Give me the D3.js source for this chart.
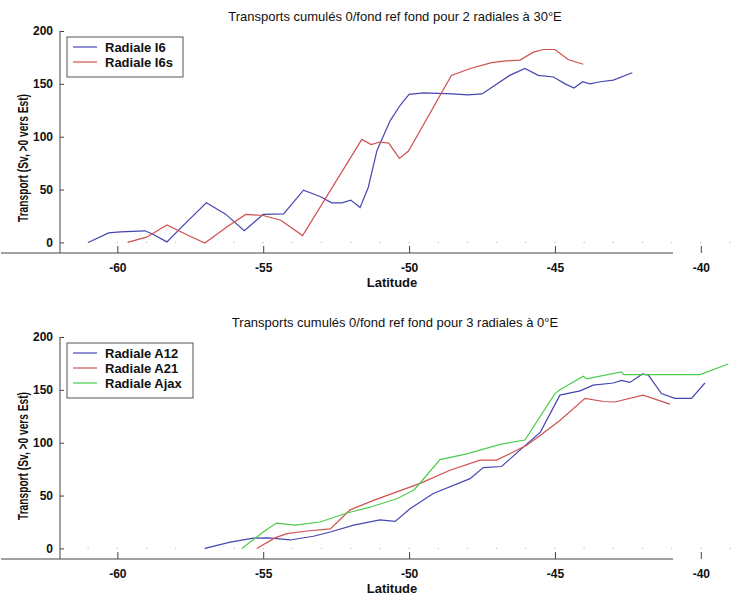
<!DOCTYPE html>
<html>
<head>
<meta charset="utf-8">
<script src="https://cdn.jsdelivr.net/npm/d3@7"></script>
<style>
  body { margin: 0; background: #fff; }
  svg { display: block; font-family: "Liberation Sans", Arial, sans-serif; }
</style>
</head>
<body>
<svg width="732" height="597"></svg>
<script>
// latitudes / transports (Sv)
var i6Lat  = [-61.0, -60.3, -59.9, -59.05, -58.8, -58.3, -57.85, -56.95, -56.3, -55.65, -55.0, -54.3, -53.62, -53.05, -52.65, -52.3, -52.0, -51.68, -51.4, -51.1, -50.65, -50.3, -50.0, -49.5, -48.5, -48.0, -47.5, -46.55, -46.03, -45.57, -45.05, -44.65, -44.35, -44.05, -43.8, -43.45, -43.0, -42.35];
var i6Val  = [0, 9, 10, 11, 8, 0.5, 13, 37.5, 27, 11, 26.5, 27, 49.5, 43.5, 37.5, 37.5, 40, 33, 52, 87, 115, 130, 140, 141.5, 140.5, 139.5, 140.5, 158, 164.5, 158, 156.5, 150, 146, 152, 150, 152, 153.5, 160.5];
var i6sLat = [-59.65, -59.0, -58.3, -57.6, -57.0, -56.25, -55.6, -55.0, -54.4, -53.65, -51.62, -51.3, -51.0, -50.7, -50.33, -50.02, -48.55, -47.9, -47.17, -46.77, -46.2, -45.74, -45.4, -45.0, -44.55, -44.03];
var i6sVal = [0, 5, 16.5, 7, -0.5, 14.5, 26.5, 25.5, 21, 6.5, 97.5, 92.5, 95, 94, 79.5, 86.5, 158, 164.5, 170, 171.5, 172.5, 180, 182.5, 182.5, 173, 168.5];

var a12Lat  = [-57.0, -56.13, -55.33, -54.82, -54.08, -53.28, -52.7, -51.9, -51.0, -50.48, -49.97, -49.17, -47.91, -47.46, -46.83, -46.2, -45.5, -44.83, -44.14, -43.69, -43.0, -42.72, -42.43, -42.0, -41.8, -41.35, -40.89, -40.32, -39.86];
var a12Val  = [0, 6, 9.8, 10, 8, 11.5, 15.5, 22, 27, 25.5, 37.5, 52, 66, 76.5, 77.5, 93, 110, 145, 149, 154.5, 156.5, 159, 157, 165, 164, 146.5, 142, 142, 156.5];
var a21Lat  = [-55.22, -54.6, -54.19, -53.5, -52.7, -52.02, -51.22, -50.42, -49.62, -48.6, -47.57, -47.0, -45.97, -45.5, -44.83, -43.97, -43.34, -42.95, -41.98, -41.06];
var a21Val  = [0, 10, 14, 16.5, 18.5, 36.5, 45.5, 53.5, 61.5, 74, 83.5, 83.5, 97.5, 107, 121, 142, 139, 138.5, 145, 136.5];
var ajaxLat = [-55.73, -55.0, -54.55, -53.9, -53.05, -52.13, -51.34, -50.42, -49.82, -48.94, -48.02, -46.88, -46.03, -45.0, -44.83, -44.03, -43.92, -42.72, -42.64, -40.03, -39.06];
var ajaxVal = [0, 15.5, 24, 22, 25, 33.5, 39, 47, 55.5, 84, 89.5, 98.5, 102.5, 146.5, 150, 163, 160.5, 167, 164.5, 164.5, 174.5];

var xTicks = [-60, -55, -50, -45, -40];
var yTicks = [0, 50, 100, 150, 200];

var panels = [
  { title: "Transports cumulés 0/fond ref fond pour 2 radiales à 30°E", top: 31, bottom: 253, yLabelMid: 158, legendW: 116,
    series: [
      { name: "Radiale I6",  lat: i6Lat,  val: i6Val,  color: "#4646b0" },
      { name: "Radiale I6s", lat: i6sLat, val: i6sVal, color: "#d05050" }
    ] },
  { title: "Transports cumulés 0/fond ref fond pour 3 radiales à 0°E", top: 337, bottom: 559, yLabelMid: 456, legendW: 126,
    series: [
      { name: "Radiale A12",  lat: a12Lat,  val: a12Val,  color: "#4646b0" },
      { name: "Radiale A21",  lat: a21Lat,  val: a21Val,  color: "#d05050" },
      { name: "Radiale Ajax", lat: ajaxLat, val: ajaxVal, color: "#4ccc4c" }
    ] }
];

var svg = d3.select("svg");
var x = d3.scaleLinear().domain([-62, -39]).range([59, 730]);
// plain hyphen for negatives, like the original plot
var fmt = function(d) { return String(d); };

panels.forEach(function(p) {
  var y = d3.scaleLinear().domain([-10, 200]).range([p.bottom, p.top]);
  var g = svg.append("g");

  // faint dots along the zero line
  g.append("g").selectAll("circle")
    .data(d3.range(-61, -38))
    .enter().append("circle")
    .attr("cx", function(d) { return x(d); })
    .attr("cy", y(0))
    .attr("r", 0.8)
    .attr("fill", "#c8c8c8");

  // axes, ticks pointing inward
  var xAxis = g.append("g")
    .attr("transform", "translate(0," + p.bottom + ")")
    .call(d3.axisBottom(x).tickValues(xTicks).tickFormat(fmt).tickSizeInner(-7).tickSizeOuter(0).tickPadding(10));
  var yAxis = g.append("g")
    .attr("transform", "translate(60,0)")
    .call(d3.axisLeft(y).tickValues(yTicks).tickFormat(fmt).tickSizeInner(-4).tickSizeOuter(0).tickPadding(7));

  [xAxis, yAxis].forEach(function(a) {
    a.select(".domain").attr("stroke", "#444");
    a.selectAll(".tick line").attr("stroke", "#444");
    a.selectAll(".tick text").attr("fill", "#111").attr("font-size", 12).attr("font-weight", "bold");
  });
  xAxis.select(".domain").attr("d", "M1,0H673");
  yAxis.select(".domain").attr("d", "M0," + y(200) + "V" + p.bottom);

  // title and axis labels
  g.append("text")
    .attr("x", 395).attr("y", p.top - 10)
    .attr("text-anchor", "middle")
    .attr("font-size", 13)
    .attr("fill", "#111")
    .text(p.title);
  g.append("text")
    .attr("x", 392).attr("y", p.bottom + 34)
    .attr("text-anchor", "middle")
    .attr("font-size", 13)
    .attr("font-weight", "bold")
    .attr("fill", "#111")
    .text("Latitude");
  g.append("text")
    .attr("transform", "translate(28," + p.yLabelMid + ") rotate(-90)")
    .attr("text-anchor", "middle")
    .attr("font-size", 14)
    .attr("font-weight", "bold")
    .attr("fill", "#111")
    .attr("textLength", 128)
    .attr("lengthAdjust", "spacingAndGlyphs")
    .text("Transport (Sv, >0 vers Est)");

  // curves
  var line = d3.line()
    .x(function(d) { return x(d[0]); })
    .y(function(d) { return y(d[1]); });
  p.series.forEach(function(s) {
    g.append("path")
      .datum(d3.zip(s.lat, s.val))
      .attr("fill", "none")
      .attr("stroke", s.color)
      .attr("stroke-width", 1.2)
      .attr("d", line);
  });

  // legend
  var lg = g.append("g").attr("transform", "translate(67," + (p.top + 6) + ")");
  lg.append("rect")
    .attr("width", p.legendW)
    .attr("height", 10 + p.series.length * 15)
    .attr("fill", "#fff")
    .attr("stroke", "#555");
  var item = lg.selectAll(".item")
    .data(p.series)
    .enter().append("g")
    .attr("transform", function(d, i) { return "translate(0," + (10 + i * 15) + ")"; });
  item.append("line")
    .attr("x1", 6).attr("x2", 30)
    .attr("stroke", function(d) { return d.color; })
    .attr("stroke-width", 1.2);
  item.append("text")
    .attr("x", 38).attr("y", 4.5)
    .attr("font-size", 13)
    .attr("font-weight", "bold")
    .attr("fill", "#111")
    .text(function(d) { return d.name; });
});
</script>
</body>
</html>
